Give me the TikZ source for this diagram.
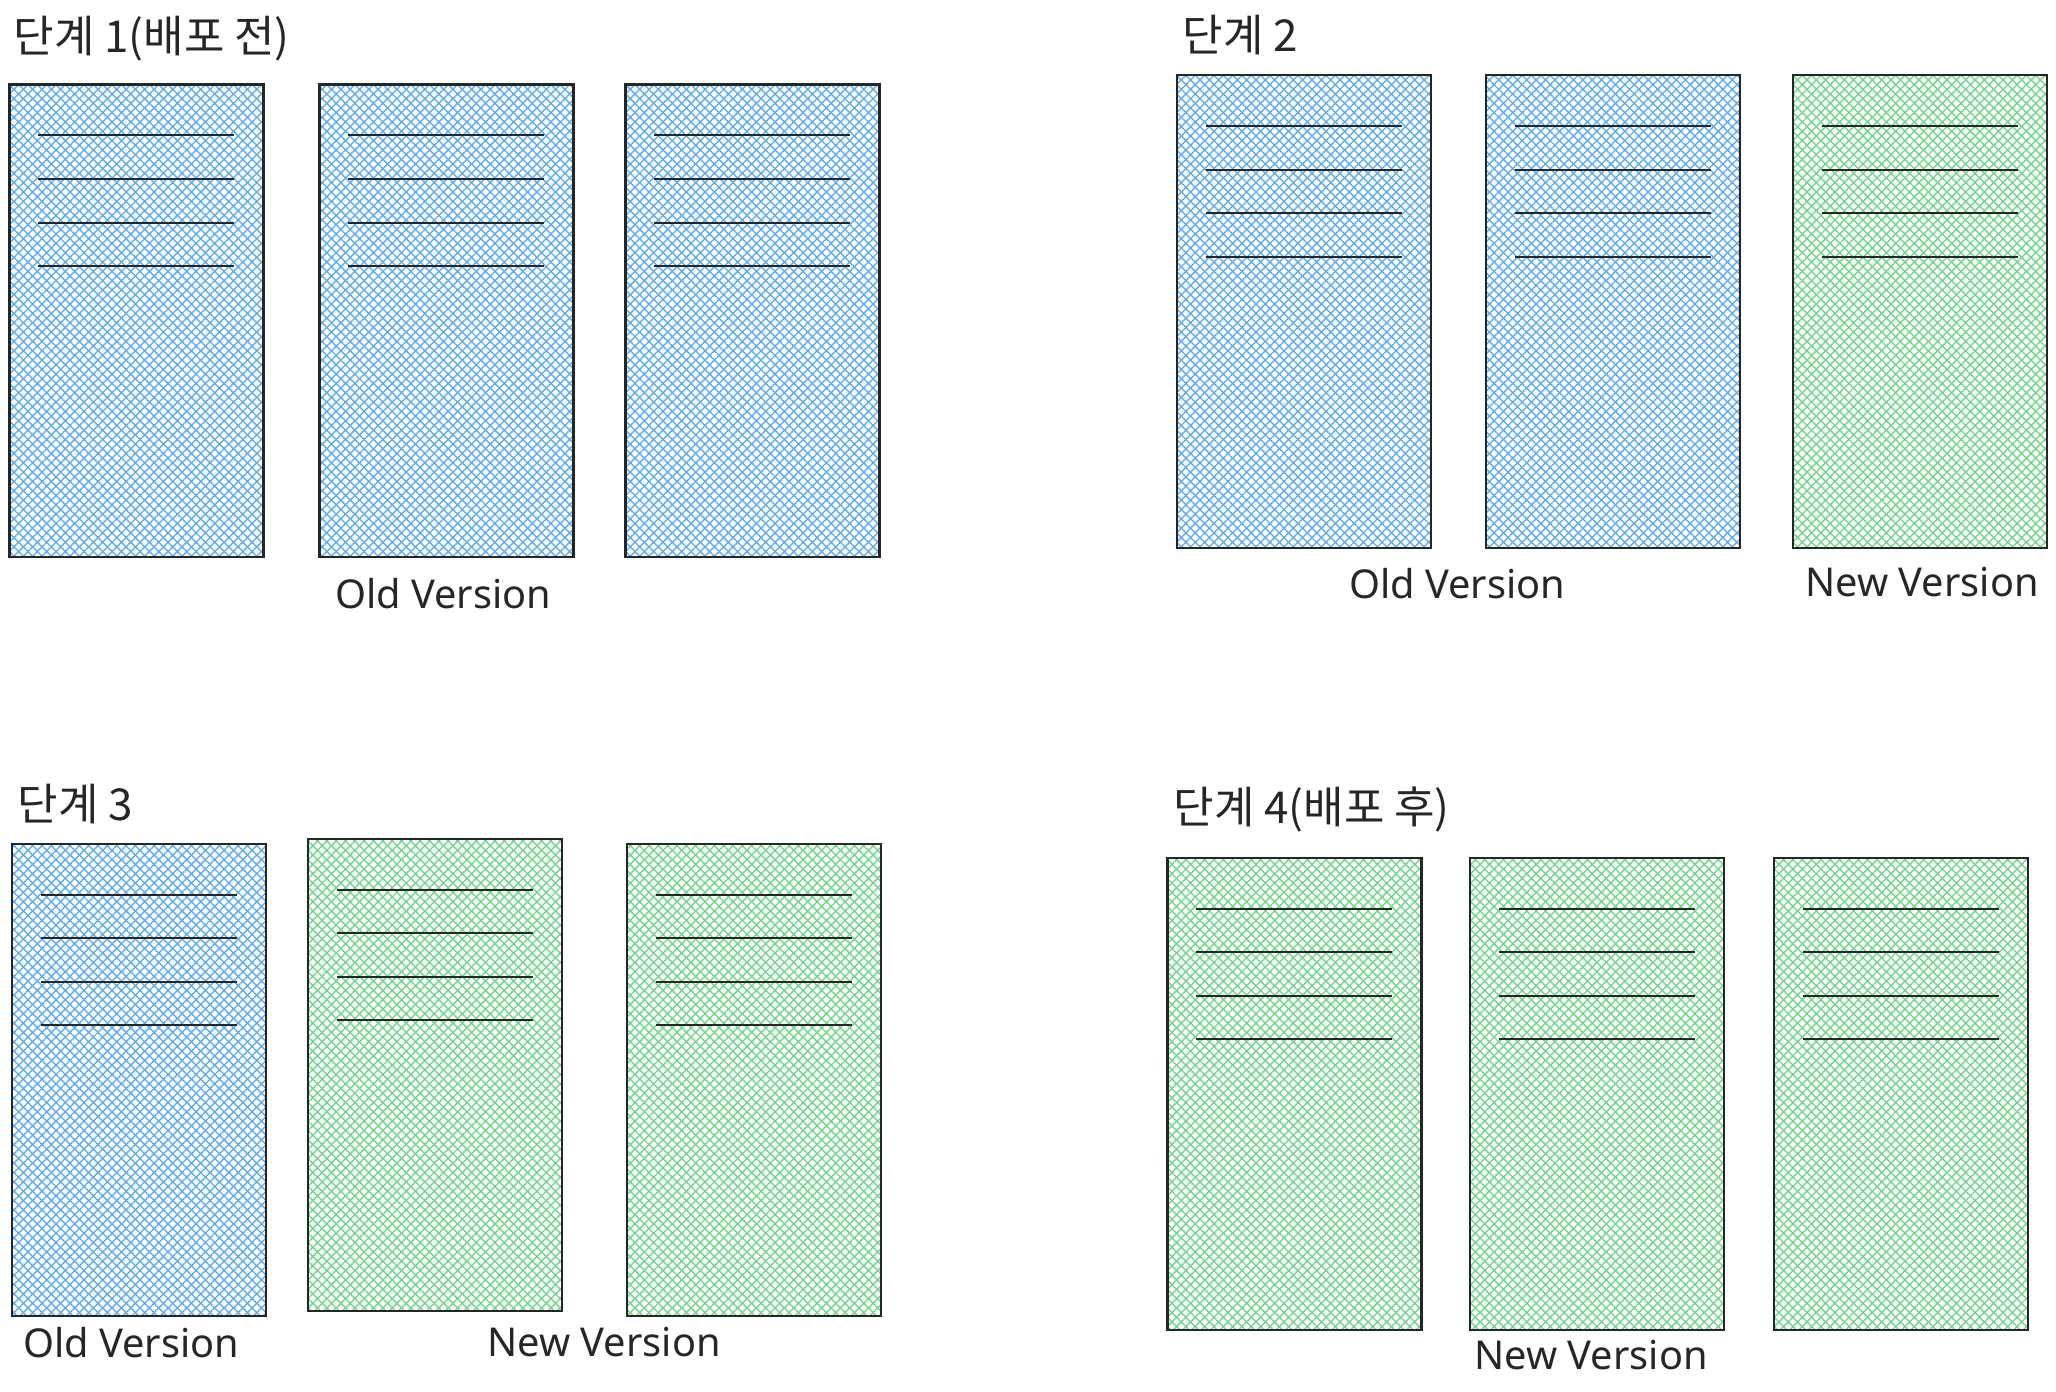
\documentclass[tikz,border=0pt]{standalone}
\usepackage{fontspec}
\setmainfont{Noto Sans}
\newfontfamily\krfont{Noto Sans CJK KR}
\usetikzlibrary{patterns.meta}
\definecolor{oldblue}{RGB}{94,172,240}
\definecolor{newgreen}{RGB}{112,214,138}

\begin{document}
\begin{tikzpicture}[x=0.01cm,y=-0.01cm]
    \tikzstyle{every node}=[inner sep=0pt]
    \tikzstyle{server}=[draw=black!85,line width=0.022cm,minimum width=2.54cm,minimum height=4.72cm]
    \tikzstyle{oldsrv}=[server,
        preaction={pattern color=oldblue,pattern={Lines[angle=45,distance=0.066cm,line width=0.014cm]}},
        preaction={pattern color=oldblue,pattern={Lines[angle=-45,distance=0.066cm,line width=0.014cm]}}]
    \tikzstyle{newsrv}=[server,
        preaction={pattern color=newgreen,pattern={Lines[angle=45,distance=0.066cm,line width=0.014cm]}},
        preaction={pattern color=newgreen,pattern={Lines[angle=-45,distance=0.066cm,line width=0.014cm]}}]
    \tikzstyle{srvline}=[line width=0.02cm,black!85]
    \tikzstyle{steptitle}=[anchor=base west,font=\krfont\fontsize{12.5}{15}\selectfont,text=black!85]
    \tikzstyle{vername}=[anchor=base,font=\fontsize{11.3}{13}\selectfont,text=black!85]
    \useasboundingbox (0,0) rectangle (2056,1392);
    % step 1
    \draw (13,53) node[steptitle] (t1) {단계 1(배포 전)};
    \draw (136.5,320.7) node[oldsrv] (a1) {};
    \draw (446.5,320.7) node[oldsrv] (a2) {};
    \draw (752.5,320.7) node[oldsrv] (a3) {};
    \draw (443,609) node[vername] (a-old) {Old Version};
    % step 2
    \draw (1182,52) node[steptitle] (t2) {단계 2};
    \draw (1304,311.5) node[oldsrv] (b1) {};
    \draw (1613,311.5) node[oldsrv] (b2) {};
    \draw (1920,311.5) node[newsrv] (b3) {};
    \draw (1457,599) node[vername] (b-old) {Old Version};
    \draw (1922,597) node[vername] (b-new) {New Version};
    % step 3
    \draw (17,821) node[steptitle] (t3) {단계 3};
    \draw (139,1080) node[oldsrv] (c1) {};
    \draw (435,1075) node[newsrv] (c2) {};
    \draw (754,1080) node[newsrv] (c3) {};
    \draw (131,1358) node[vername] (c-old) {Old Version};
    \draw (604,1357) node[vername] (c-new) {New Version};
    % step 4
    \draw (1173,824) node[steptitle] (t4) {단계 4(배포 후)};
    \draw (1294.5,1094) node[newsrv] (d1) {};
    \draw (1597,1094) node[newsrv] (d2) {};
    \draw (1901,1094) node[newsrv] (d3) {};
    \draw (1591,1370) node[vername] (d-new) {New Version};
    % text lines in every server
    \foreach \s in {a1,a2,a3,b1,b2,b3,c1,c2,c3,d1,d2,d3}
        \foreach \k in {0,...,3}
            \draw[srvline] ([xshift=0.3cm,yshift={-0.52cm-\k*0.435cm}]\s.north west) -- ++(196,0);
\end{tikzpicture}
\end{document}
